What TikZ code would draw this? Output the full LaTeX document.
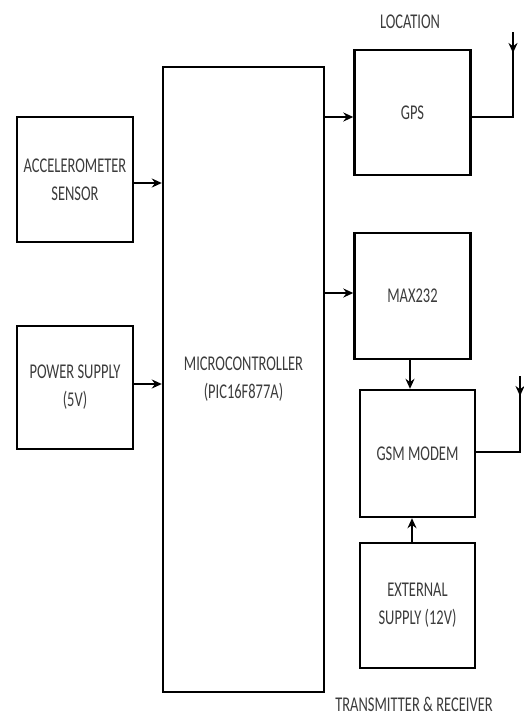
\documentclass[tikz,border=0pt]{standalone}
\usepackage{fontspec}
\setmainfont{Carlito}[FakeStretch=0.69]
\usetikzlibrary{arrows.meta,positioning}

\definecolor{labelgray}{HTML}{3C3C3C}

\tikzset{
  block/.style={draw, line width=2.4pt, inner sep=0pt, align=center,
    text=labelgray, font=\fontsize{21}{28}\selectfont},
  link/.style={line width=2.4pt, -{Stealth[length=10pt,width=9pt]}},
  antenna/.style={line width=2.4pt},
  caption/.style={text=labelgray, font=\fontsize{21}{24}\selectfont},
}

\begin{document}
\begin{tikzpicture}[x=1pt, y=-1pt, >=Stealth]
      \useasboundingbox (0,0) rectangle (524,715);

      % Inputs
      \node[block, minimum width=116pt, minimum height=125pt] (accel) at (75,179.5) {ACCELEROMETER\\SENSOR};
      \node[block, minimum width=116pt, minimum height=123pt] (power) at (75,387.5) {POWER SUPPLY\\(5V)};

      % Controller
      \node[block, minimum width=161pt, minimum height=625pt] (mcu) at (243.5,379.5) {MICROCONTROLLER\\(PIC16F877A)};

      % Outputs
      \node[block, minimum width=116pt, minimum height=125pt] (gps) at (412.5,112.5) {GPS};
      \node[block, minimum width=116pt, minimum height=126pt] (max) at (412.5,296) {MAX232};
      \node[block, minimum width=115pt, minimum height=127pt] (gsm) at (417.5,453.5) {GSM MODEM};
      \node[block, minimum width=115pt, minimum height=125pt] (ext) at (417.5,605.5) {EXTERNAL\\SUPPLY (12V)};

      % Labels
      \node[caption] (loc) at (410,22) {LOCATION};
      \node[caption] (trx) at (414,704) {TRANSMITTER \& RECEIVER};

      % Links into the controller
      \draw[link] (accel.east |- 0,183) -- (mcu.west |- 0,183);
      \draw[link] (power.east |- 0,384) -- (mcu.west |- 0,384);

      % Links out of the controller
      \draw[link] (mcu.east |- 0,117) -- (gps.west |- 0,117);
      \draw[link] (mcu.east |- 0,293) -- (max.west |- 0,293);
      \draw[link] (max.south -| 410,0) -- (gsm.north -| 410,0);
      \draw[link] (ext.north -| 412,0) -- (gsm.south -| 412,0);

      % Antennas
      \coordinate (gpsant) at (513,32);
      \coordinate (gsmant) at (520,376);
      \draw[antenna] (gps.east |- 0,117) -| (gpsant);
      \draw[link] (gpsant) -- ++(0,21);
      \draw[antenna] (gsm.east |- 0,452) -| (gsmant);
      \draw[link] (gsmant) -- ++(0,20);
    \end{tikzpicture}
\end{document}
